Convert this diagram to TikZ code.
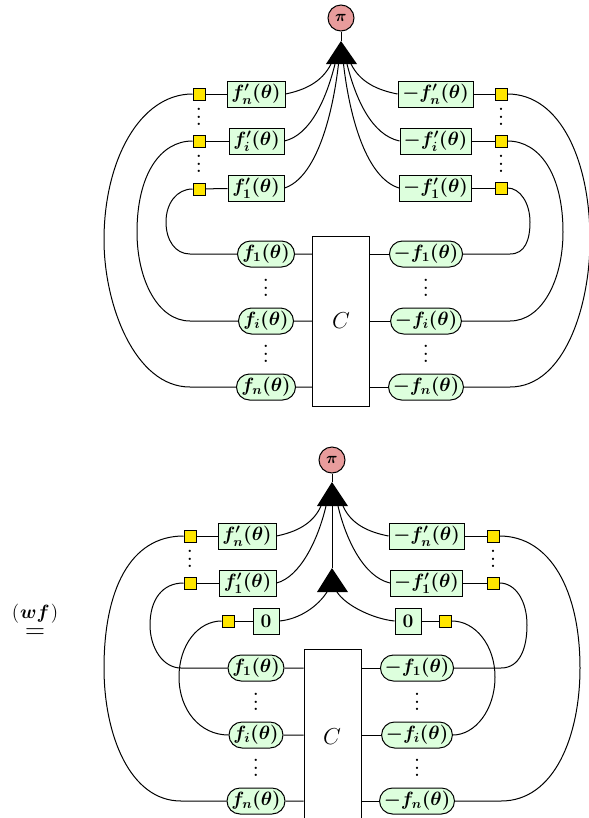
\documentclass[tikz,border=0pt]{standalone}
\usepackage{amsmath}
\usetikzlibrary{shapes.misc}
\definecolor{boxgreen}{HTML}{DDFFDD}
\definecolor{pired}{HTML}{E89C9C}
\definecolor{sqyellow}{HTML}{FFE600}
\def\px{0.75pt}
\newcommand{\bdots}{\vbox{\baselineskip=5.6pt\lineskiplimit=0pt\hbox{\large\bfseries.}\hbox{\large\bfseries.}\hbox{\large\bfseries.}}}
\tikzset{
  every node/.style={inner sep=0pt, font=\Large\boldmath},
  wire/.style={line width=0.75pt},
  fbox/.style={draw, fill=boxgreen, line width=0.75pt, minimum height=26*\px},
  pill/.style={draw, fill=boxgreen, rounded rectangle, line width=0.75pt, minimum height=26*\px},
  sq/.style={draw, fill=sqyellow, line width=0.75pt, minimum width=12*\px, minimum height=12*\px},
  pinode/.style={draw, circle, fill=pired, line width=0.75pt, minimum size=26*\px, font=\large\boldmath},
  tri/.style={fill=black}
}
\begin{document}
\begin{tikzpicture}[x=0.75pt,y=-0.75pt]
\useasboundingbox (0,0) rectangle (589,818);
% ---------- upper diagram ----------
\node[pinode] (pA) at (341,18) {$\pi$};
\coordinate (tA) at (341,41);
\draw[wire] (pA) -- (tA);
\fill[tri] (341,41) -- (326,64) -- (357,64) -- cycle;
\coordinate (aL1) at (331,64); \coordinate (aL2) at (335,64); \coordinate (aL3) at (338.5,64);
\coordinate (aR1) at (351,64); \coordinate (aR2) at (347,64); \coordinate (aR3) at (343.5,64);
\node[fbox, minimum width=58*\px] (aln) at (256,94) {$f'_n(\theta)$};
\node[fbox, minimum width=55*\px] (ali) at (256.5,141) {$f'_i(\theta)$};
\node[fbox, minimum width=56*\px] (al1) at (256,188) {$f'_1(\theta)$};
\node[fbox, minimum width=75*\px] (arn) at (435.5,94) {$-f'_n(\theta)$};
\node[fbox, minimum width=71*\px] (ari) at (435.5,141) {$-f'_i(\theta)$};
\node[fbox, minimum width=72*\px] (ar1) at (435.5,188) {$-f'_1(\theta)$};
\node[sq] (sln) at (199,94) {};
\node[sq] (sli) at (199,141) {};
\node[sq] (sl1) at (199,189) {};
\node[sq] (srn) at (501,94) {};
\node[sq] (sri) at (501,141) {};
\node[sq] (sr1) at (501,188) {};
\node (d1) at (199,117) {\bdots};
\node (d2) at (199,164) {\bdots};
\node (d3) at (501,117) {\bdots};
\node (d4) at (501,164) {\bdots};
\node[draw, fill=white, line width=0.75pt, minimum width=57*\px, minimum height=170*\px, font=\LARGE] (CA) at (341,321) {$C$};
\node[pill, minimum width=57*\px] (pl1) at (266,254) {$f_1(\theta)$};
\node[pill, minimum width=55*\px] (pli) at (266,321) {$f_i(\theta)$};
\node[pill, minimum width=59*\px] (pln) at (266,387) {$f_n(\theta)$};
\node[pill, minimum width=72*\px] (pr1) at (426,254) {$-f_1(\theta)$};
\node[pill, minimum width=70*\px] (pri) at (426,321) {$-f_i(\theta)$};
\node[pill, minimum width=74*\px] (prn) at (426,387) {$-f_n(\theta)$};
\node (d5) at (266,288) {\bdots};
\node (d6) at (266,354) {\bdots};
\node (d7) at (426,288) {\bdots};
\node (d8) at (426,354) {\bdots};
\begin{scope}[wire]
\draw (aln.east) .. controls (305,90) and (322,82) .. (aL1);
\draw (ali.east) .. controls (310,135) and (326,100) .. (aL2);
\draw (al1.east) .. controls (315,178) and (332,120) .. (aL3);
\draw (arn.west) .. controls (377,90) and (360,82) .. (aR1);
\draw (ari.west) .. controls (372,135) and (356,100) .. (aR2);
\draw (ar1.west) .. controls (367,178) and (350,120) .. (aR3);
\draw (aln) -- (sln); \draw (ali) -- (sli); \draw (al1) -- (sl1);
\draw (arn) -- (srn); \draw (ari) -- (sri); \draw (ar1) -- (sr1);
\draw (pl1) -- (pl1 -| CA.west); \draw (pli) -- (pli -| CA.west); \draw (pln) -- (pln -| CA.west);
\draw (pr1) -- (pr1 -| CA.east); \draw (pri) -- (pri -| CA.east); \draw (prn) -- (prn -| CA.east);
\coordinate (w1) at (104,240); \coordinate (w2) at (137,232); \coordinate (w3) at (166,222);
\coordinate (w4) at (590,240); \coordinate (w5) at (563,232); \coordinate (w6) at (530,222);
\draw (sln.west) .. controls (140,94) and (104,160) .. (w1) .. controls (104,305) and (135,387) .. (190,387) -- (pln.west);
\draw (sli.west) .. controls (160,141) and (137,175) .. (w2) .. controls (137,280) and (158,321) .. (190,321) -- (pli.west);
\draw (sl1.west) .. controls (177,189) and (166,203) .. (w3) .. controls (166,240) and (175,254) .. (190,254) -- (pl1.west);
\draw (srn.east) .. controls (560,94) and (590,160) .. (w4) .. controls (590,305) and (565,387) .. (510,387) -- (prn.east);
\draw (sri.east) .. controls (540,141) and (563,175) .. (w5) .. controls (563,280) and (542,321) .. (510,321) -- (pri.east);
\draw (sr1.east) .. controls (520,188) and (530,203) .. (w6) .. controls (530,240) and (525,254) .. (510,254) -- (pr1.east);
\end{scope}
% ---------- lower diagram ----------
\node[pinode] (pB) at (332,460) {$\pi$};
\coordinate (tB) at (332,482);
\draw[wire] (pB) -- (tB);
\fill[tri] (332,482) -- (317,506) -- (348,506) -- cycle;
\coordinate (tC) at (332,568);
\draw[wire] (332,506) -- (tC);
\fill[tri] (332,568) -- (317,592) -- (348,592) -- cycle;
\coordinate (bL1) at (321,506); \coordinate (bL2) at (326,506); \coordinate (bL3) at (327,592);
\coordinate (bR1) at (343,506); \coordinate (bR2) at (338,506); \coordinate (bR3) at (337,592);
\node[fbox, minimum width=58*\px] (bln) at (247,536) {$f'_n(\theta)$};
\node[fbox, minimum width=57*\px] (bl1) at (247.5,583) {$f'_1(\theta)$};
\node[fbox, minimum width=26*\px] (bl0) at (266,621) {$\mathbf{0}$};
\node[fbox, minimum width=75*\px] (brn) at (426.5,536) {$-f'_n(\theta)$};
\node[fbox, minimum width=72*\px] (br1) at (426.5,583) {$-f'_1(\theta)$};
\node[fbox, minimum width=26*\px] (br0) at (408,621) {$\mathbf{0}$};
\node[sq] (tln) at (190,536) {};
\node[sq] (tl1) at (190,583) {};
\node[sq] (tl0) at (228,621) {};
\node[sq] (trn) at (493,536) {};
\node[sq] (tr1) at (493,583) {};
\node[sq] (tr0) at (445.5,621) {};
\node (e1) at (190,559) {\bdots};
\node (e2) at (493,559) {\bdots};
\node[draw, fill=white, line width=0.75pt, minimum width=57*\px, minimum height=190*\px, anchor=north] (CB) at (332.5,649) {};
\node[font=\LARGE] (CBl) at (332,737) {$C$};
\node[pill, minimum width=56*\px] (ql1) at (256,668) {$f_1(\theta)$};
\node[pill, minimum width=54*\px] (qli) at (256,735) {$f_i(\theta)$};
\node[pill, minimum width=58*\px] (qln) at (256,801) {$f_n(\theta)$};
\node[pill, minimum width=72*\px] (qr1) at (417,668) {$-f_1(\theta)$};
\node[pill, minimum width=70*\px] (qri) at (417,735) {$-f_i(\theta)$};
\node[pill, minimum width=74*\px] (qrn) at (417,801) {$-f_n(\theta)$};
\node (e5) at (256,702) {\bdots};
\node (e6) at (256,768) {\bdots};
\node (e7) at (417,702) {\bdots};
\node (e8) at (417,768) {\bdots};
\begin{scope}[wire]
\draw (bln.east) .. controls (296,532) and (313,524) .. (bL1);
\draw (bl1.east) .. controls (300,577) and (318,540) .. (bL2);
\draw (bl0.east) .. controls (300,619) and (318,606) .. (bL3);
\draw (brn.west) .. controls (368,532) and (351,524) .. (bR1);
\draw (br1.west) .. controls (364,577) and (346,540) .. (bR2);
\draw (br0.west) .. controls (374,619) and (346,606) .. (bR3);
\draw (bln) -- (tln); \draw (bl1) -- (tl1); \draw (bl0) -- (tl0);
\draw (brn) -- (trn); \draw (br1) -- (tr1); \draw (br0) -- (tr0);
\draw (ql1) -- (ql1 -| CB.west); \draw (qli) -- (qli -| CB.west); \draw (qln) -- (qln -| CB.west);
\draw (qr1) -- (qr1 -| CB.east); \draw (qri) -- (qri -| CB.east); \draw (qrn) -- (qrn -| CB.east);
\coordinate (x1) at (104,668); \coordinate (x2) at (150,625); \coordinate (x3) at (179,677);
\coordinate (x4) at (580,668); \coordinate (x5) at (527,625); \coordinate (x6) at (495,677);
\draw (tln.west) .. controls (130,536) and (104,590) .. (x1) .. controls (104,735) and (130,801) .. (181,801) -- (qln.west);
\draw (tl1.west) .. controls (162,583) and (150,600) .. (x2) .. controls (150,648) and (163,668) .. (181,668) -- (ql1.west);
\draw (tl0.west) .. controls (198,621) and (179,645) .. (x3) .. controls (179,710) and (200,735) .. (qli.west);
\draw (trn.east) .. controls (550,536) and (580,590) .. (x4) .. controls (580,735) and (555,801) .. (501,801) -- (qrn.east);
\draw (tr1.east) .. controls (515,583) and (527,600) .. (x5) .. controls (527,648) and (520,668) .. (501,668) -- (qr1.east);
\draw (tr0.east) .. controls (475,621) and (495,645) .. (x6) .. controls (495,710) and (475,735) .. (qri.east);
\end{scope}
\node[font=\Large\unboldmath, align=center] (eqn) at (35,621) {$(\kern0.8pt\boldsymbol{wf}\kern0.8pt)$\\[-3pt]{\huge$=$}};
\end{tikzpicture}
\end{document}
